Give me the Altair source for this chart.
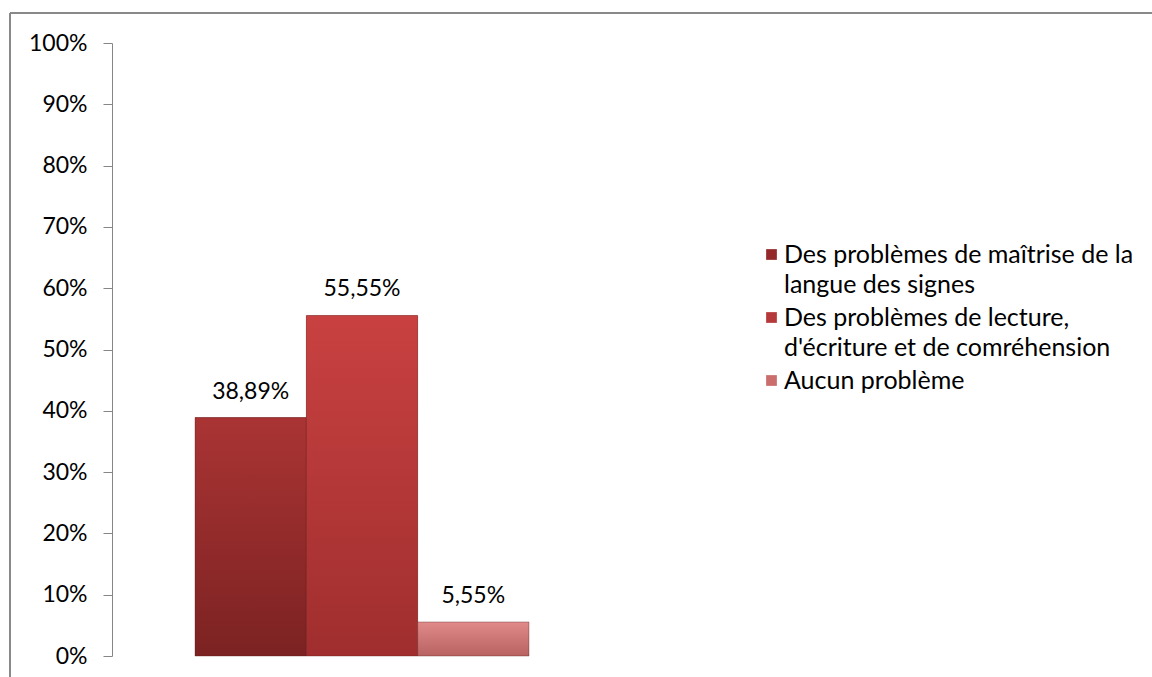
import json
import altair as alt
import pandas as pd

categories = [
    "Des problèmes de maîtrise de la langue des signes",
    "Des problèmes de lecture, d'écriture et de comréhension",
    "Aucun problème",
]
legend_lines = [
    ["Des problèmes de maîtrise de la", "langue des signes"],
    ["Des problèmes de lecture,", "d'écriture et de comréhension"],
    ["Aucun problème"],
]
values = [0.3889, 0.5555, 0.0555]
value_labels = ["38,89%", "55,55%", "5,55%"]
colors = ["#93292a", "#b5393a", "#cb6d6d"]
grad_top = ["#aa3434", "#c94141", "#e08a8a"]
grad_bottom = ["#7c2222", "#a02e2e", "#b86262"]
y_ticks = [i / 10 for i in range(11)]

df = pd.DataFrame({"cat": categories, "val": values, "lab": value_labels,
                   "idx": list(range(len(categories)))})

# legend label expression splitting long names over two lines
expr = json.dumps(legend_lines[-1], ensure_ascii=False)
for name, lines in reversed(list(zip(categories[:-1], legend_lines[:-1]))):
    expr = f"datum.label == {json.dumps(name, ensure_ascii=False)} ? {json.dumps(lines, ensure_ascii=False)} : ({expr})"


def grad(i):
    return {
        "gradient": "linear", "x1": 0, "y1": 0, "x2": 0, "y2": 1,
        "stops": [{"offset": 0, "color": grad_top[i]},
                  {"offset": 1, "color": grad_bottom[i]}],
    }


FONT = "Lato"

x_enc = alt.X(
    "cat:N",
    sort=categories,
    axis=None,
    scale=alt.Scale(paddingInner=0, paddingOuter=0.746),
)
y_enc = alt.Y(
    "val:Q",
    scale=alt.Scale(domain=[0, 1]),
    axis=alt.Axis(
        values=y_ticks,
        format=".0%",
        title=None,
        grid=False,
        tickSize=9,
        tickColor="#868686",
        domainColor="#868686",
        labelPadding=16,
        labelFont=FONT,
        labelFontSize=23,
        labelColor="#000000",
    ),
)

bars = alt.Chart(df).mark_bar().encode(
    x=x_enc,
    y=y_enc,
    color=alt.Color(
        "cat:N",
        sort=categories,
        scale=alt.Scale(domain=categories, range=colors),
        legend=alt.Legend(
            title=None,
            orient="none",
            legendX=647,
            legendY=199,
            padding=0,
            symbolType="square",
            symbolSize=115,
            symbolStrokeWidth=0,
            labelFont=FONT,
            labelFontSize=25,
            labelColor="#000000",
            labelLimit=0,
            labelOffset=0,
            rowPadding=7,
            labelExpr=expr,
        ),
    ),
)

grad_bars = alt.Chart(df).mark_bar(stroke="#5a1818", strokeWidth=0.8, strokeOpacity=0.45).encode(
    x=alt.X("cat:N", sort=categories),
    y="val:Q",
    color=alt.ColorValue(
        value=grad(2),
        condition=[{"test": "datum.idx == 0", "value": grad(0)},
                   {"test": "datum.idx == 1", "value": grad(1)}],
    ),
)

texts = alt.Chart(df).mark_text(
    baseline="alphabetic", dy=-19, font=FONT, fontSize=23, color="#000000"
).encode(x=alt.X("cat:N", sort=categories), y="val:Q", text="lab:N")

frame_top = alt.Chart(df).mark_rule(color="#878787", strokeWidth=1.5).encode(
    x=alt.value(-102), x2=alt.value(1040), y=alt.value(-30)
)
frame_left = alt.Chart(df).mark_rule(color="#878787", strokeWidth=1.5).encode(
    x=alt.value(-102), y=alt.value(-30), y2=alt.value(634)
)

chart = (
    alt.layer(frame_top, frame_left, bars, grad_bars, texts)
    .properties(
        width=500,
        height=613,
        autosize=alt.AutoSizeParams(type="none"),
        padding={"left": 112, "top": 43, "right": 540, "bottom": 21},
    )
    .configure(background="white", style={"guide-label": {"lineHeight": 30}})
    .configure_view(stroke=None)
)

chart.save("out.html", embed_options={"renderer": "svg", "actions": False})
